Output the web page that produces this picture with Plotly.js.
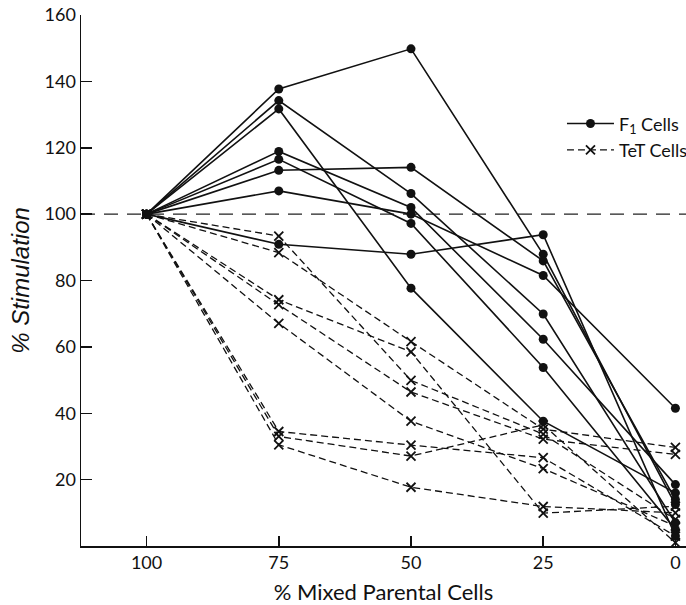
<!DOCTYPE html>
<html>
<head>
<meta charset="utf-8">
<script src="https://cdn.plot.ly/plotly-3.0.1.min.js"></script>
<style>html,body{margin:0;padding:0;background:#fff;}#chart{width:686px;height:605px;}</style>
</head>
<body>
<div id="chart"></div>
<script>
// % mixed parental cells (x categories)
const mixedPct = [100, 75, 50, 25, 0];
const tickLabels = ["100", "75", "50", "25", "0"];

// F1 cells, % stimulation (one array per experiment)
const f1A = [100, 137.7, 149.8, 87.9, 12.5];
const f1B = [100, 134.2, 106.2, 69.9, 7];
const f1C = [100, 131.7, 77.7, 37.6, 16];
const f1D = [100, 118.9, 102.0, 62.3, 18.5];
const f1E = [100, 116.5, 97.2, 53.8, 5];
const f1F = [100, 113.2, 114.1, 85.9, 14];
const f1G = [100, 107.0, 100.0, 81.5, 41.5];
const f1H = [100, 90.9, 87.9, 93.8, 3];

// TeT cells, % stimulation
const tetA = [100, 93.4, 49.9, 33.7, 8];
const tetB = [100, 88.4, 61.6, 35.2, 29.7];
const tetC = [100, 74.2, 58.5, 9.9, 12];
const tetD = [100, 72.7, 46.4, 32.2, 27.6];
const tetE = [100, 67.1, 37.6, 23.3, 6];
const tetF = [100, 34.5, 30.4, 26.6, 3];
const tetG = [100, 33.0, 27.1, 36.5, 1];
const tetH = [100, 30.5, 17.7, 11.9, 10];

const f1Series = [f1A, f1B, f1C, f1D, f1E, f1F, f1G, f1H];
const tetSeries = [tetA, tetB, tetC, tetD, tetE, tetF, tetG, tetH];
const refLevel = 100;

const traces = [];
tetSeries.forEach((ys, i) => {
  traces.push({
    x: mixedPct, y: ys, type: 'scatter', mode: 'lines+markers',
    name: 'TeT Cells', legendgroup: 'tet', showlegend: i === 0, legendrank: 2,
    line: {color: '#111', width: 1.3, dash: '7px,4px'},
    marker: {symbol: 'x-thin-open', size: 9, line: {color: '#111', width: 1.8}, color: '#111'}
  });
});
f1Series.forEach((ys, i) => {
  traces.push({
    x: mixedPct, y: ys, type: 'scatter', mode: 'lines+markers',
    name: 'F<sub>1</sub> Cells', legendgroup: 'f1', showlegend: i === 0, legendrank: 1,
    line: {color: '#111', width: 1.6},
    marker: {symbol: 'circle', size: 9, color: '#111'}
  });
});

const tickFont = {family: 'Lato, "Liberation Sans", sans-serif', size: 18, color: '#111'};

const layout = {
  width: 686, height: 605,
  margin: {l: 81, r: 0, t: 15, b: 59, autoexpand: false},
  paper_bgcolor: '#fff', plot_bgcolor: '#fff',
  showlegend: true,
  legend: {
    x: 0.795, y: 0.83, xanchor: 'left', yanchor: 'top',
    itemwidth: 47, tracegroupgap: 8,
    font: {family: 'Lato, "Liberation Sans", sans-serif', size: 18, color: '#111'},
    bgcolor: 'rgba(0,0,0,0)', traceorder: 'normal'
  },
  xaxis: {
    range: [112.4, -2], showgrid: false, zeroline: false,
    showline: true, linecolor: '#111', linewidth: 1.5,
    tickvals: mixedPct, ticktext: tickLabels,
    ticks: 'inside', ticklen: 10, tickwidth: 1.5, tickcolor: '#111',
    tickfont: tickFont,
    title: {text: '% Mixed Parental Cells', standoff: 12,
            font: {family: 'Lato, "Liberation Sans", sans-serif', size: 22, color: '#111'}}
  },
  yaxis: {
    range: [0, 160], showgrid: false, zeroline: false,
    showline: true, linecolor: '#111', linewidth: 1.5,
    tickvals: [20, 40, 60, 80, 100, 120, 140, 160],
    ticks: 'inside', ticklen: 11, tickwidth: 1.5, tickcolor: '#111',
    tickfont: tickFont,
    title: {text: '% Stimulation', standoff: 8,
            font: {family: '"Liberation Sans", Lato, sans-serif', size: 24, color: '#111', style: 'italic'}}
  },
  shapes: [{
    type: 'line', xref: 'paper', x0: 0, x1: 1, yref: 'y', y0: refLevel, y1: refLevel,
    line: {color: '#222', width: 1.3, dash: '14px,9px'}, layer: 'below'
  }]
};

Plotly.newPlot('chart', traces, layout, {displayModeBar: false, staticPlot: true});
</script>
</body>
</html>
